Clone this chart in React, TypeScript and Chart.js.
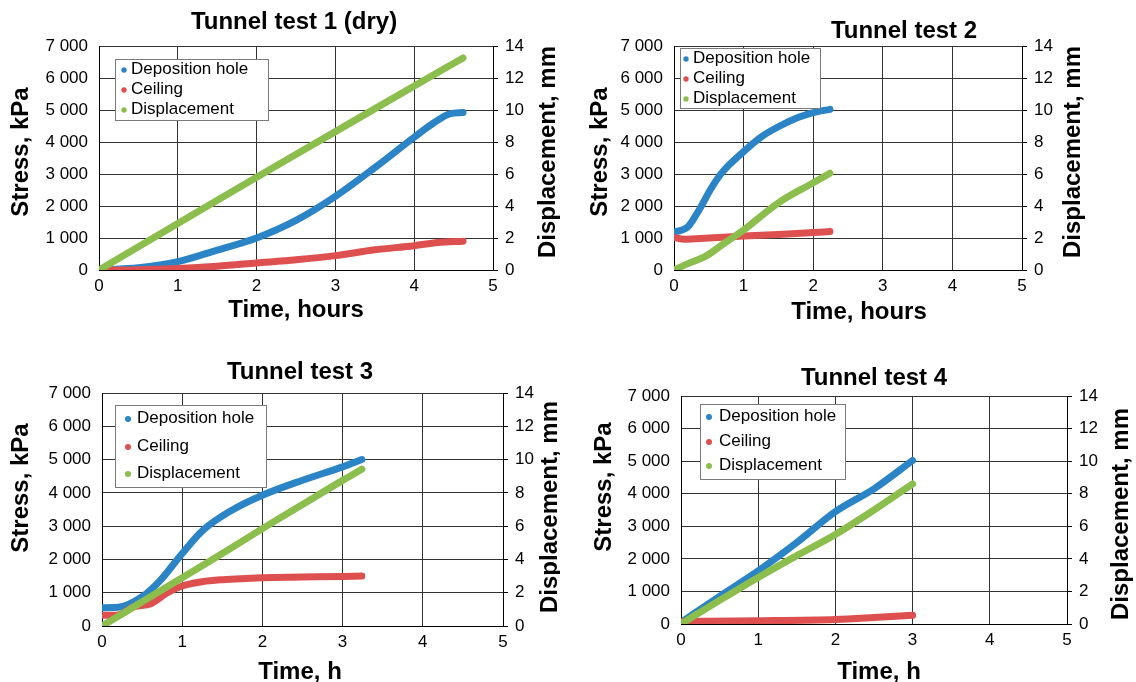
import React, { useEffect, useRef } from 'react';
import { Chart, registerables } from 'chart.js';

Chart.register(...registerables);

const FONT = "'Liberation Sans', Arial, Helvetica, sans-serif";

// ---- tick labels ----
const stressTickLabels = ['0', '1 000', '2 000', '3 000', '4 000', '5 000', '6 000', '7 000'];
const dispTickLabels = ['0', '2', '4', '6', '8', '10', '12', '14'];
const timeTickLabels = ['0', '1', '2', '3', '4', '5'];

// ---- series ----
const seriesNames = ['Deposition hole', 'Ceiling', 'Displacement'];
const seriesColors = ['#2A84C6', '#DE5050', '#8BBE4C'];

// Tunnel test 1 (dry)
const t1DepTime = [0, 0.5, 1, 1.5, 2, 2.5, 3, 3.5, 4, 4.25, 4.45, 4.62];
const t1DepStress = [0, 70, 260, 620, 1000, 1550, 2300, 3200, 4150, 4600, 4880, 4920];
const t1CeilTime = [0, 0.5, 1, 1.5, 2, 2.5, 3, 3.5, 4, 4.3, 4.62];
const t1CeilStress = [0, 10, 50, 120, 220, 320, 450, 630, 760, 860, 900];
const t1DispTime = [0, 1, 2, 3, 4, 4.62];
const t1Disp = [0, 2.9, 5.8, 8.65, 11.5, 13.25];

// Tunnel test 2
const t2DepTime = [0, 0.2, 0.36, 0.52, 0.68, 1, 1.26, 1.52, 1.79, 2, 2.24];
const t2DepStress = [1180, 1350, 1875, 2500, 3020, 3700, 4170, 4500, 4770, 4920, 5020];
const t2CeilTime = [0, 0.15, 0.5, 1, 1.5, 2, 2.24];
const t2CeilStress = [1020, 960, 1000, 1060, 1110, 1170, 1200];
const t2DispTime = [0, 0.2, 0.45, 0.7, 1, 1.5, 2, 2.24];
const t2Disp = [0, 0.4, 0.85, 1.6, 2.5, 4.2, 5.45, 6.05];

// Tunnel test 3
const t3DepTime = [0, 0.2, 0.5, 0.73, 1, 1.26, 1.62, 2, 2.5, 3, 3.24];
const t3DepStress = [550, 560, 880, 1380, 2180, 2880, 3480, 3930, 4380, 4780, 5000];
const t3CeilTime = [0, 0.2, 0.4, 0.6, 0.8, 1, 1.25, 1.5, 2, 2.5, 3, 3.24];
const t3CeilStress = [320, 330, 580, 660, 980, 1200, 1330, 1390, 1450, 1470, 1490, 1500];
const t3DispTime = [0, 0.5, 1, 1.5, 2, 2.5, 3, 3.24];
const t3Disp = [0, 1.45, 2.9, 4.35, 5.85, 7.3, 8.75, 9.42];

// Tunnel test 4
const t4DepTime = [0, 0.5, 1, 1.5, 2, 2.5, 3];
const t4DepStress = [50, 850, 1630, 2500, 3450, 4150, 5020];
const t4CeilTime = [0, 1, 2, 2.5, 3];
const t4CeilStress = [80, 100, 140, 200, 270];
const t4DispTime = [0, 0.5, 1, 1.5, 2, 2.5, 3];
const t4Disp = [0, 1.45, 2.86, 4.2, 5.5, 7.0, 8.6];

const zip = (xs: number[], ys: number[]) => xs.map((x, i) => ({ x, y: ys[i] }));

type PanelCfg = {
  title: string;
  xTitle: string;
  series: { x: number[]; y: number[] }[];
  pos: { left: number; top: number; w: number; h: number };
  area: { l: number; r: number; t: number; b: number };
  titlePos: [number, number];
  yTitlePos: [number, number];
  y2TitlePos: [number, number];
  xTitlePos: [number, number];
  legend: { x0: number; y0: number; x1: number; y1: number; rows: number[]; dotX: number; textX: number; dotR: number };
};

const panels: PanelCfg[] = [
  {
    title: 'Tunnel test 1 (dry)',
    xTitle: 'Time, hours',
    series: [
      { x: t1DepTime, y: t1DepStress },
      { x: t1CeilTime, y: t1CeilStress },
      { x: t1DispTime, y: t1Disp },
    ],
    pos: { left: 0, top: 0, w: 560, h: 341 },
    area: { l: 99, r: 493, t: 46, b: 270 },
    titlePos: [294, 22],
    yTitlePos: [21, 152],
    y2TitlePos: [548, 152],
    xTitlePos: [296, 310],
    legend: { x0: 115, y0: 59, x1: 268, y1: 120, rows: [69, 89, 109], dotX: 124, textX: 131, dotR: 2.7 },
  },
  {
    title: 'Tunnel test 2',
    xTitle: 'Time, hours',
    series: [
      { x: t2DepTime, y: t2DepStress },
      { x: t2CeilTime, y: t2CeilStress },
      { x: t2DispTime, y: t2Disp },
    ],
    pos: { left: 560, top: 0, w: 576, h: 341 },
    area: { l: 114, r: 462, t: 46, b: 270 },
    titlePos: [344, 31],
    yTitlePos: [40, 152],
    y2TitlePos: [513, 152],
    xTitlePos: [299, 312],
    legend: { x0: 120, y0: 48, x1: 260, y1: 108, rows: [58, 78, 98], dotX: 126, textX: 133, dotR: 2.7 },
  },
  {
    title: 'Tunnel test 3',
    xTitle: 'Time, h',
    series: [
      { x: t3DepTime, y: t3DepStress },
      { x: t3CeilTime, y: t3CeilStress },
      { x: t3DispTime, y: t3Disp },
    ],
    pos: { left: 0, top: 350, w: 560, h: 332 },
    area: { l: 102, r: 503, t: 43, b: 276 },
    titlePos: [300, 22],
    yTitlePos: [21, 138],
    y2TitlePos: [550, 157],
    xTitlePos: [300, 322],
    legend: { x0: 115, y0: 55, x1: 266, y1: 137, rows: [68, 96, 123], dotX: 128, textX: 137, dotR: 3 },
  },
  {
    title: 'Tunnel test 4',
    xTitle: 'Time, h',
    series: [
      { x: t4DepTime, y: t4DepStress },
      { x: t4CeilTime, y: t4CeilStress },
      { x: t4DispTime, y: t4Disp },
    ],
    pos: { left: 560, top: 350, w: 576, h: 332 },
    area: { l: 121, r: 507, t: 46, b: 274 },
    titlePos: [314, 28],
    yTitlePos: [44, 137],
    y2TitlePos: [561, 164],
    xTitlePos: [319, 322],
    legend: { x0: 140, y0: 54, x1: 285, y1: 129, rows: [66, 91, 115], dotX: 149, textX: 159, dotR: 3 },
  },
];

const LEFT_W = 70;
const RIGHT_W = 40;
const X_H = 30;

function makeOverlay(cfg: PanelCfg) {
  return {
    id: 'overlay',
    afterDraw(chart: any) {
      const ctx = chart.ctx as CanvasRenderingContext2D;
      ctx.save();
      // legend box
      const b = cfg.legend;
      ctx.fillStyle = '#ffffff';
      ctx.fillRect(b.x0, b.y0, b.x1 - b.x0, b.y1 - b.y0);
      ctx.strokeStyle = '#7a7a7a';
      ctx.lineWidth = 1;
      ctx.strokeRect(b.x0 + 0.5, b.y0 + 0.5, b.x1 - b.x0, b.y1 - b.y0);
      chart.data.datasets.forEach((ds: any, i: number) => {
        const y = b.rows[i];
        ctx.fillStyle = ds.borderColor;
        ctx.beginPath();
        ctx.arc(b.dotX, y + 1, b.dotR, 0, Math.PI * 2);
        ctx.fill();
        ctx.fillStyle = '#000';
        ctx.font = `17px ${FONT}`;
        ctx.textAlign = 'left';
        ctx.textBaseline = 'middle';
        ctx.fillText(ds.label, b.textX, y);
      });
      // titles
      ctx.fillStyle = '#000';
      ctx.font = `bold 24px ${FONT}`;
      ctx.textAlign = 'center';
      ctx.textBaseline = 'middle';
      ctx.fillText(cfg.title, cfg.titlePos[0], cfg.titlePos[1]);
      ctx.fillText(cfg.xTitle, cfg.xTitlePos[0], cfg.xTitlePos[1]);
      const rot = (text: string, x: number, y: number) => {
        ctx.save();
        ctx.translate(x, y);
        ctx.rotate(-Math.PI / 2);
        ctx.fillText(text, 0, 0);
        ctx.restore();
      };
      rot('Stress, kPa', cfg.yTitlePos[0], cfg.yTitlePos[1]);
      rot('Displacement, mm', cfg.y2TitlePos[0], cfg.y2TitlePos[1]);
      ctx.restore();
    },
  };
}

function Panel({ cfg }: { cfg: PanelCfg }) {
  const ref = useRef<HTMLCanvasElement | null>(null);
  useEffect(() => {
    if (!ref.current) return;
    const { w, h } = cfg.pos;
    const a = cfg.area;
    const chart = new Chart(ref.current, {
      type: 'line',
      data: {
        datasets: cfg.series.map((s, i) => ({
          label: seriesNames[i],
          data: zip(s.x, s.y),
          borderColor: seriesColors[i],
          backgroundColor: seriesColors[i],
          borderWidth: 7,
          borderCapStyle: 'round' as const,
          borderJoinStyle: 'round' as const,
          pointRadius: 0,
          cubicInterpolationMode: 'monotone' as const,
          fill: false,
          yAxisID: i === 2 ? 'y2' : 'y',
          order: 3 - i,
        })),
      },
      options: {
        animation: false,
        responsive: false,
        devicePixelRatio: 1,
        events: [],
        layout: {
          padding: {
            left: a.l - LEFT_W,
            right: w - a.r - RIGHT_W,
            top: a.t,
            bottom: h - a.b - X_H,
          },
        },
        plugins: { legend: { display: false }, tooltip: { enabled: false }, title: { display: false } },
        scales: {
          x: {
            type: 'linear',
            min: 0,
            max: 5,
            afterFit: (s: any) => { s.height = X_H; },
            afterBuildTicks: (s: any) => { s.ticks = timeTickLabels.map((_, i) => ({ value: i })); },
            ticks: {
              stepSize: 1,
              padding: 6,
              color: '#000',
              font: { family: FONT, size: 17 },
              maxRotation: 0,
              callback: (_v: any, i: number) => timeTickLabels[i],
            },
            grid: { color: '#333', lineWidth: 1, drawTicks: false },
            border: { color: '#000', width: 1 },
          },
          y: {
            type: 'linear',
            position: 'left',
            min: 0,
            max: 7000,
            afterFit: (s: any) => { s.width = LEFT_W; },
            afterBuildTicks: (s: any) => { s.ticks = stressTickLabels.map((_, i) => ({ value: i * 1000 })); },
            ticks: {
              padding: 11,
              color: '#000',
              font: { family: FONT, size: 17 },
              callback: (_v: any, i: number) => stressTickLabels[i],
            },
            grid: { color: '#333', lineWidth: 1, drawTicks: false },
            border: { color: '#000', width: 1 },
          },
          y2: {
            type: 'linear',
            position: 'right',
            min: 0,
            max: 14,
            afterFit: (s: any) => { s.width = RIGHT_W; },
            afterBuildTicks: (s: any) => { s.ticks = dispTickLabels.map((_, i) => ({ value: i * 2 })); },
            ticks: {
              padding: 7,
              color: '#000',
              font: { family: FONT, size: 17 },
              callback: (_v: any, i: number) => dispTickLabels[i],
            },
            grid: { drawOnChartArea: false, drawTicks: true, tickLength: 5, color: '#000' },
            border: { color: '#000', width: 1 },
          },
        },
      },
      plugins: [makeOverlay(cfg)],
    } as any);
    return () => chart.destroy();
  }, [cfg]);
  return (
    <div style={{ position: 'absolute', left: cfg.pos.left, top: cfg.pos.top, width: cfg.pos.w, height: cfg.pos.h }}>
      <canvas ref={ref} width={cfg.pos.w} height={cfg.pos.h} style={{ width: cfg.pos.w, height: cfg.pos.h, display: 'block' }} />
    </div>
  );
}

export default function App() {
  return (
    <div style={{ position: 'absolute', left: 0, top: 0, width: 1136, height: 682, background: '#fff' }}>
      {panels.map((p, i) => (
        <Panel key={i} cfg={p} />
      ))}
    </div>
  );
}
